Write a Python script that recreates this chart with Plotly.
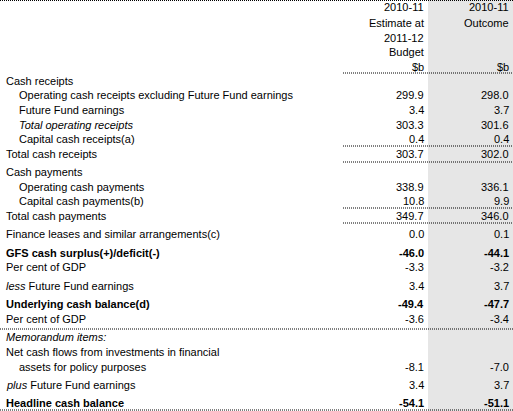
import plotly.graph_objects as go

# table content
labels = ['Cash receipts',
          'Operating cash receipts excluding Future Fund earnings',
          'Future Fund earnings',
          '<i>Total operating receipts</i>',
          'Capital cash receipts(a)',
          'Total cash receipts',
          'Cash payments',
          'Operating cash payments',
          'Capital cash payments(b)',
          'Total cash payments',
          'Finance leases and similar arrangements(c)',
          '<b>GFS cash surplus(+)/deficit(-)</b>',
          'Per cent of GDP',
          '<i>less</i> Future Fund earnings',
          '<b>Underlying cash balance(d)</b>',
          'Per cent of GDP',
          '<i>Memorandum items:</i>',
          'Net cash flows from investments in financial',
          'assets for policy purposes',
          '<i>plus</i> Future Fund earnings',
          '<b>Headline cash balance</b>']
indent = [0, 1, 1, 1, 1, 0, 0, 1, 1, 0, 0, 0, 0, 0, 0, 0, 0, 0, 1, 0, 0]
estimate = ['', '299.9', '3.4', '303.3', '0.4', '303.7', '', '338.9', '10.8', '349.7',
            '0.0', '-46.0', '-3.3', '3.4', '-49.4', '-3.6', '', '', '-8.1', '3.4', '-54.1']
outcome = ['', '298.0', '3.7', '301.6', '0.4', '302.0', '', '336.1', '9.9', '346.0',
           '0.1', '-44.1', '-3.2', '3.7', '-47.7', '-3.4', '', '', '-7.0', '3.7', '-51.1']
bold = [False] * 11 + [True, False, False, True, False, False, False, False, False, True]
row_y = [81, 95, 110, 125, 139, 154, 172, 187, 201, 216, 234, 253, 267, 286, 304, 319,
         337, 352, 367, 385, 403]

header_est = ['2010-11', 'Estimate at', '2011-12', 'Budget', '$b']
header_out = ['2010-11', 'Outcome', '', '', '$b']
header_y = [7, 23, 38, 52, 67]

font = dict(family='Liberation Sans, Arial', size=11, color='black')
ann = []


def add(x, y, text, anchor):
    ann.append(dict(x=x, y=y, xref='x', yref='y', text=text, showarrow=False,
                    xanchor=anchor, yanchor='middle', font=font))


for t, y in zip(header_est, header_y):
    add(426, y, t, 'right')
for t, y in zip(header_out, header_y):
    if t:
        add(511, y, t, 'right')
for lab, ind, e, o, b, y in zip(labels, indent, estimate, outcome, bold, row_y):
    add(4 + 13 * ind, y, lab, 'left')
    if e:
        add(426, y, '<b>%s</b>' % e if b else e, 'right')
    if o:
        add(511, y, '<b>%s</b>' % o if b else o, 'right')

dot = dict(color='black', width=1, dash='1px,1px')
shapes = [dict(type='rect', x0=428, x1=513, y0=0, y1=411, fillcolor='#e6e6e6',
               line_width=0, layer='below')]
for y in [73, 146, 162, 208, 223]:
    shapes.append(dict(type='line', x0=343, x1=513, y0=y, y1=y, line=dot))
for y in [0.5, 329, 410]:
    shapes.append(dict(type='line', x0=0, x1=513, y0=y, y1=y, line=dot))

fig = go.Figure()
fig.update_layout(
    width=513, height=411, margin=dict(l=0, r=0, t=0, b=0),
    paper_bgcolor='white', plot_bgcolor='white',
    xaxis=dict(range=[0, 513], visible=False, fixedrange=True),
    yaxis=dict(range=[411, 0], visible=False, fixedrange=True),
    annotations=ann, shapes=shapes, showlegend=False,
)
fig.write_html('out.html', config={'displayModeBar': False},
               post_script="document.body.style.margin='0';document.body.style.overflow='hidden';")
